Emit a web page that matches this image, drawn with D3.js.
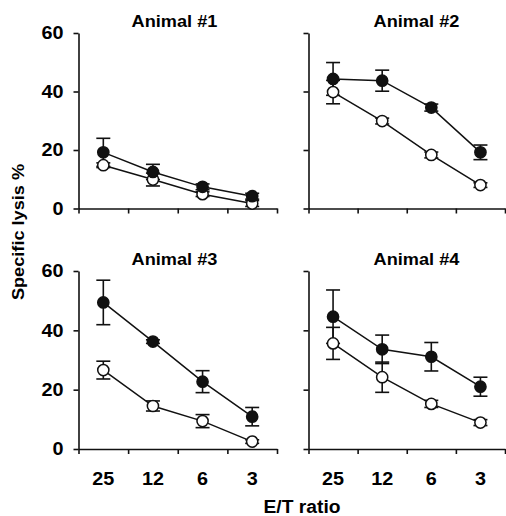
<!DOCTYPE html>
<html>
<head>
<meta charset="utf-8">
<script src="https://cdnjs.cloudflare.com/ajax/libs/d3/7.8.5/d3.min.js"></script>
<style>
  body { margin: 0; background: #fff; }
  text { font-family: "Liberation Sans", Arial, sans-serif; font-weight: bold; fill: #000; }
</style>
</head>
<body>
<script>
// E/T ratios (categories) and y ticks
const ratios = ["25", "12", "6", "3"];
const yTicks = [0, 20, 40, 60];
const titles = ["Animal #1", "Animal #2", "Animal #3", "Animal #4"];

// filled circles: mean and error (one row per animal)
const filledMean = [[19.2, 12.5, 7.4, 4.2], [44.3, 43.7, 34.5, 19.2], [49.4, 36.2, 22.7, 10.9], [44.6, 33.6, 31.1, 21.0]];
const filledErr = [[4.8, 2.6, 1.0, 1.0], [5.6, 3.6, 1.2, 2.5], [7.5, 0.6, 3.7, 3.1], [9.0, 4.8, 4.8, 3.2]];
// open circles: mean and error
const openMean = [[14.8, 9.9, 4.9, 1.7], [39.8, 29.9, 18.3, 8.0], [26.6, 14.5, 9.4, 2.5], [35.6, 24.2, 15.2, 8.9]];
const openErr = [[0.8, 2.2, 0.8, 1.0], [4.0, 1.0, 1.0, 0.8], [3.0, 1.7, 2.2, 0.6], [5.4, 5.1, 1.2, 1.0]];

// panel frames
const panels = [
  { x: 78.5, w: 198.5, top: 33, bottom: 208.5, col: 0, row: 0 },
  { x: 308.5, w: 196.5, top: 33, bottom: 208.5, col: 1, row: 0 },
  { x: 78.5, w: 198.5, top: 271, bottom: 449, col: 0, row: 1 },
  { x: 308.5, w: 196.5, top: 271, bottom: 449, col: 1, row: 1 }
];

const svg = d3.select("body").append("svg")
  .attr("width", 506)
  .attr("height", 516);

panels.forEach((p, i) => {
  const x = d3.scaleBand().domain(ratios).range([p.x, p.x + p.w]);
  const xEdge = d3.scaleLinear().domain([0, ratios.length]).range([p.x, p.x + p.w]);
  const y = d3.scaleLinear().domain([0, 60]).range([p.bottom, p.top]);
  const cx = d => x(d) + x.bandwidth() / 2;

  // y axis
  const yAxis = d3.axisLeft(y).tickValues(yTicks).tickSize(5).tickSizeOuter(0).tickPadding(10);
  if (p.col == 1) yAxis.tickFormat("");
  const gy = svg.append("g")
    .attr("transform", `translate(${p.x},0)`)
    .call(yAxis);
  gy.selectAll("text").style("font-size", "18px");

  // x axis, ticks at category edges
  const gx = svg.append("g")
    .attr("transform", `translate(0,${p.bottom})`)
    .call(d3.axisBottom(xEdge).tickValues(d3.range(ratios.length + 1)).tickSize(5).tickSizeOuter(0).tickFormat(""));

  // category labels only under the lower panels
  if (p.row == 1) {
    const gl = svg.append("g")
      .attr("transform", `translate(0,${p.bottom})`)
      .call(d3.axisBottom(x).tickSize(0).tickPadding(23.5));
    gl.select(".domain").remove();
    gl.selectAll("text").style("font-size", "18px");
  }

  [gx, gy].forEach(g => {
    g.selectAll(".domain, .tick line").attr("stroke", "#111").attr("stroke-width", 1.6);
  });

  // title
  svg.append("text")
    .attr("x", p.x + (p.col == 0 ? 96 : 108))
    .attr("y", p.row == 0 ? 26.5 : 265)
    .attr("text-anchor", "middle")
    .style("font-size", "16.5px")
    .text(titles[i]);

  const series = [
    { mean: openMean[i], err: openErr[i], fill: "#fff" },
    { mean: filledMean[i], err: filledErr[i], fill: "#111" }
  ];

  // error bars
  series.forEach(s => {
    const eb = svg.append("g").attr("stroke", "#111").attr("stroke-width", 1.6).attr("fill", "none");
    ratios.forEach((r, k) => {
      const hi = y(s.mean[k] + s.err[k]), lo = y(s.mean[k] - s.err[k]);
      eb.append("line").attr("x1", cx(r)).attr("x2", cx(r)).attr("y1", hi).attr("y2", lo);
      eb.append("line").attr("x1", cx(r) - 7).attr("x2", cx(r) + 7).attr("y1", hi).attr("y2", hi);
      eb.append("line").attr("x1", cx(r) - 7).attr("x2", cx(r) + 7).attr("y1", lo).attr("y2", lo);
    });
  });

  // connecting lines
  const line = d3.line().x((d, k) => cx(ratios[k])).y(d => y(d));
  series.forEach(s => {
    svg.append("path")
      .attr("d", line(s.mean))
      .attr("fill", "none")
      .attr("stroke", "#111")
      .attr("stroke-width", 1.5);
  });

  // markers
  series.forEach(s => {
    svg.append("g").selectAll("circle")
      .data(s.mean)
      .join("circle")
      .attr("cx", (d, k) => cx(ratios[k]))
      .attr("cy", d => y(d))
      .attr("r", 5.6)
      .attr("fill", s.fill)
      .attr("stroke", "#111")
      .attr("stroke-width", 1.5);
  });
});

// axis titles
svg.append("text")
  .attr("x", 302)
  .attr("y", 513)
  .attr("text-anchor", "middle")
  .style("font-size", "17.5px")
  .text("E/T ratio");

svg.append("text")
  .attr("transform", "translate(24,232) rotate(-90)")
  .attr("text-anchor", "middle")
  .style("font-size", "16.5px")
  .text("Specific lysis %");

// the lettering in the figure is a little wider than the font
svg.selectAll("text").each(function () {
  const w = this.getComputedTextLength();
  if (w > 0) {
    this.setAttribute("textLength", w * 1.1);
    this.setAttribute("lengthAdjust", "spacingAndGlyphs");
  }
});
</script>
</body>
</html>
